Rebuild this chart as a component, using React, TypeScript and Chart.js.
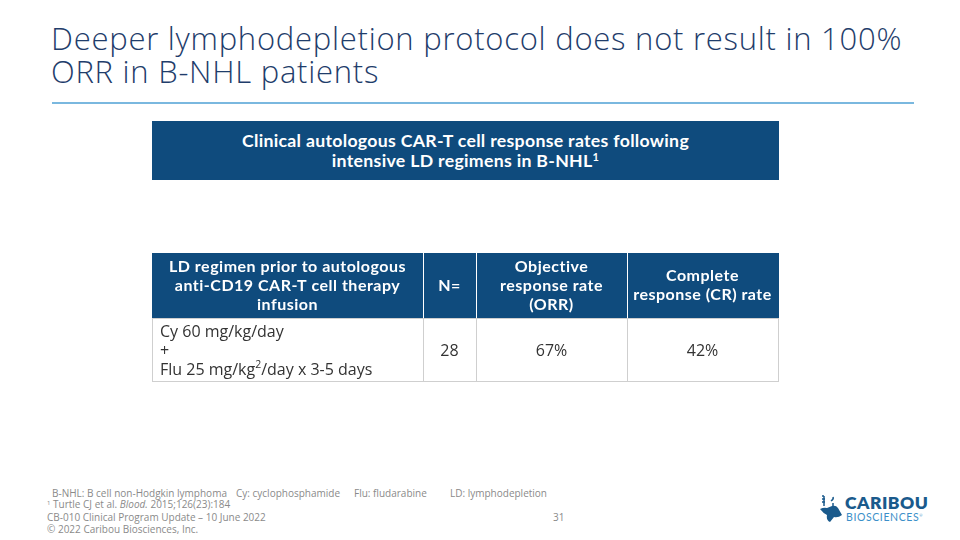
import React, { useEffect, useRef } from "react";
import { Chart, registerables } from "chart.js";

Chart.register(...registerables);

// ---- data ----
const slideTitle = ["Deeper lymphodepletion protocol does not result in 100%", "ORR in B-NHL patients"];
const boxTitle = ["Clinical autologous CAR-T cell response rates following", "intensive LD regimens in B-NHL"];
const columnHeaders: string[][] = [
  ["LD regimen prior to autologous", "anti-CD19 CAR-T cell therapy", "infusion"],
  ["N="],
  ["Objective", "response rate", "(ORR)"],
  ["Complete", "response (CR) rate"],
];
const regimenLines = ["Cy 60 mg/kg/day", "+", "Flu 25 mg/kg|2|/day x 3-5 days"];
const nPatients = [28];
const orrValues = [67];
const crValues = [42];
const abbreviations = [
  "B-NHL: B cell non-Hodgkin lymphoma",
  "Cy: cyclophosphamide",
  "Flu: fludarabine",
  "LD: lymphodepletion",
];

const NAVY = "#0f4b7d";
const FONT = "Lato, 'Noto Sans', sans-serif";
const OPEN = "'Open Sans', Lato, sans-serif";

const tablePlugin = {
  id: "tablePlugin",
  afterDraw(chart: any) {
    const ctx: any = chart.ctx;
    const W = chart.width;
    const edges = [0, 271, 324, 475, W - 1];
    const headH = 65;
    const bodyTop = headH;
    const bodyH = 64;
    ctx.save();
    ctx.fillStyle = NAVY;
    ctx.fillRect(0, 0, W, headH);
    ctx.strokeStyle = "#ffffff";
    ctx.lineWidth = 1;
    for (let i = 1; i < edges.length - 1; i++) {
      ctx.beginPath();
      ctx.moveTo(edges[i] + 0.5, 0);
      ctx.lineTo(edges[i] + 0.5, headH);
      ctx.stroke();
    }
    ctx.fillStyle = "#ffffff";
    ctx.font = `bold 16px ${FONT}`;
    ctx.letterSpacing = "0.5px";
    ctx.textAlign = "center";
    ctx.textBaseline = "middle";
    const lh = 19;
    columnHeaders.forEach((lines, c) => {
      const cx = (edges[c] + edges[c + 1]) / 2;
      const start = headH / 2 - ((lines.length - 1) * lh) / 2;
      lines.forEach((t, k) => ctx.fillText(t, cx, start + k * lh));
    });
    ctx.strokeStyle = "#cfcfcf";
    ctx.strokeRect(0.5, bodyTop + 0.5, W - 1, bodyH - 1);
    for (let i = 1; i < edges.length - 1; i++) {
      ctx.beginPath();
      ctx.moveTo(edges[i] + 0.5, bodyTop);
      ctx.lineTo(edges[i] + 0.5, bodyTop + bodyH);
      ctx.stroke();
    }
    ctx.fillStyle = "#333333";
    ctx.letterSpacing = "0px";
    const bodyFont = `16px ${OPEN}`;
    ctx.font = bodyFont;
    ctx.textAlign = "left";
    const bmid = bodyTop + bodyH / 2 + 1.5;
    regimenLines.forEach((t, k) => {
      const y = bmid + (k - 1) * lh;
      const parts = t.split("|");
      let x = 8;
      parts.forEach((p, j) => {
        if (j % 2 === 1) {
          ctx.font = `10.5px ${OPEN}`;
          ctx.fillText(p, x, y - 5);
          x += ctx.measureText(p).width;
          ctx.font = bodyFont;
        } else {
          ctx.fillText(p, x, y);
          x += ctx.measureText(p).width;
        }
      });
    });
    ctx.textAlign = "center";
    const vals = [String(nPatients[0]), `${orrValues[0]}%`, `${crValues[0]}%`];
    vals.forEach((v, i) => {
      const cx = (edges[i + 1] + edges[i + 2]) / 2;
      ctx.fillText(v, cx, bmid);
    });
    ctx.restore();
  },
};

function ResponseTable() {
  const ref = useRef<HTMLCanvasElement>(null);
  useEffect(() => {
    if (!ref.current) return;
    const chart = new Chart(ref.current, {
      type: "bar",
      data: {
        labels: ["N=", "ORR", "CR"],
        datasets: [{ data: [nPatients[0], orrValues[0], crValues[0]], backgroundColor: "rgba(0,0,0,0)" }],
      },
      options: {
        animation: false,
        responsive: false,
        devicePixelRatio: 1,
        layout: { padding: 0 },
        scales: { x: { display: false }, y: { display: false } },
        plugins: { legend: { display: false }, tooltip: { enabled: false }, title: { display: false } },
      },
      plugins: [tablePlugin],
    });
    return () => chart.destroy();
  }, []);
  return <canvas ref={ref} width={627} height={130} style={{ position: "absolute", left: 152, top: 253, width: 627, height: 130 }} />;
}

function Logo() {
  return (
    <div style={{ position: "absolute", left: 818, top: 493, width: 120, height: 32 }}>
      <svg width="26" height="32" viewBox="0 0 26 32" style={{ position: "absolute", left: 0, top: 0 }}>
        <path d="M4 3 L6 3 M4 6 L7 6 M4 9 L7 9 M6 3 L6 13 M13 8 Q16 6 15 4 M15 10 L15 13" stroke="#1a5a8c" strokeWidth="1.5" fill="none" />
        <path d="M2 16 Q6 14 9 15 L14 13 Q18 12 20 15 L24 22 Q20 25 16 24 L12 29 Q8 27 9 22 Q5 20 2 16 Z" fill="#1a5a8c" />
      </svg>
      <div style={{ position: "absolute", left: 27, top: 1, fontFamily: FONT, fontWeight: 800, fontSize: 17.5, color: "#1a5a8c", lineHeight: "17px", letterSpacing: 0.5 }}>CARIBOU</div>
      <div style={{ position: "absolute", left: 28, top: 19, fontFamily: FONT, fontSize: 10.5, color: "#3b8fc9", lineHeight: "11px", letterSpacing: 0.6 }}>BIOSCIENCES<sup style={{ fontSize: 4, lineHeight: 0 }}>®</sup></div>
    </div>
  );
}

export default function App() {
  const foot: React.CSSProperties = { position: "absolute", fontFamily: OPEN, fontSize: 10, color: "#8a8a8a", whiteSpace: "nowrap", lineHeight: "11px", height: 11 };
  const abbrX = [52, 236, 354, 450];
  return (
    <div style={{ position: "absolute", left: 0, top: 0, width: 960, height: 540, background: "#ffffff", overflow: "hidden" }}>
      {slideTitle.map((t, i) => (
        <div key={i} style={{ position: "absolute", left: 51, top: 21.5 + i * 33, height: 33, fontFamily: OPEN, fontSize: 31, fontWeight: 300, letterSpacing: 0.75, color: "#1f3d6b", lineHeight: "33px", whiteSpace: "nowrap" }}>{t}</div>
      ))}
      <div style={{ position: "absolute", left: 52, top: 102, width: 862, height: 2, background: "#7ab8df" }} />
      <div style={{ position: "absolute", left: 152, top: 121, width: 627, height: 59, background: NAVY, color: "#fff", fontFamily: FONT, fontWeight: 700, fontSize: 17.7, letterSpacing: 0.3, textAlign: "center", lineHeight: "20px", display: "flex", flexDirection: "column", justifyContent: "center" }}>
        <div>{boxTitle[0]}</div>
        <div>{boxTitle[1]}<sup style={{ fontSize: 11, verticalAlign: "6px", lineHeight: 0 }}>1</sup></div>
      </div>
      <ResponseTable />
      {abbreviations.map((t, i) => <div key={i} style={{ ...foot, left: abbrX[i], top: 487.5 }}>{t}</div>)}
      <div style={{ ...foot, left: 47, top: 498.5 }}><sup style={{ fontSize: 6, verticalAlign: "3px", lineHeight: 0 }}>1</sup> Turtle CJ et al. <i>Blood.</i> 2015;126(23):184</div>
      <div style={{ ...foot, left: 47, top: 511.5 }}>CB-010 Clinical Program Update – 10 June 2022</div>
      <div style={{ ...foot, left: 47, top: 523.5 }}>© 2022 Caribou Biosciences, Inc.</div>
      <div style={{ ...foot, left: 553, top: 511.5 }}>31</div>
      <Logo />
    </div>
  );
}
